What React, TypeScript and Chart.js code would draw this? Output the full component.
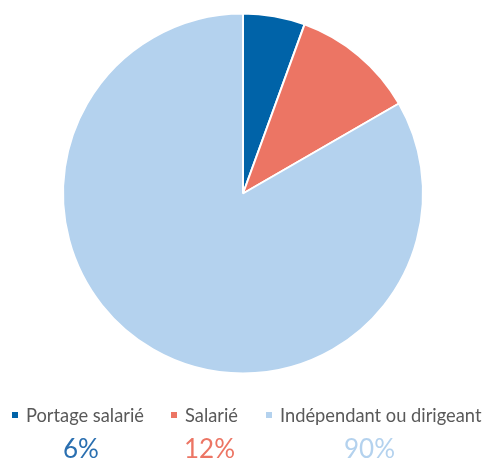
import React, { useEffect, useRef } from "react";
import { Chart, registerables } from "chart.js";

Chart.register(...registerables);

const categories = ["Portage salarié", "Salarié", "Indépendant ou dirigeant"];
const values = [6, 12, 90];
const percentLabels = ["6%", "12%", "90%"];
const colors = ["#0063A8", "#EC7564", "#B4D2EE"];
const percentColors = ["#2A6FB0", "#EC7564", "#B4D2EE"];

const legendX = [12, 171, 266];
const percentX = [63, 184, 344];

export default function App() {
  const ref = useRef<HTMLCanvasElement | null>(null);
  useEffect(() => {
    if (!ref.current) return;
    const chart = new Chart(ref.current, {
      type: "pie",
      data: {
        labels: categories,
        datasets: [
          {
            data: values,
            backgroundColor: colors,
            borderColor: "#ffffff",
            borderWidth: 2,
          },
        ],
      },
      options: {
        animation: false,
        responsive: false,
        layout: { padding: { left: 62, right: 58, top: 12, bottom: 84 } },
        plugins: { legend: { display: false }, tooltip: { enabled: false } },
      },
    });
    return () => chart.destroy();
  }, []);
  const font = "Lato, 'Open Sans', sans-serif";
  return (
    <div style={{ position: "absolute", left: 0, top: 0, width: 482, height: 459, background: "#fff" }}>
      <canvas ref={ref} width={482} height={459} style={{ position: "absolute", left: 0, top: 0 }} />
      {categories.map((c, i) => (
        <div key={c} style={{ position: "absolute", left: legendX[i], top: 404, display: "flex", alignItems: "center", fontFamily: font, fontSize: 18.3, color: "#595959", whiteSpace: "nowrap", lineHeight: "22px" }}>
          <span style={{ display: "inline-block", width: 6, height: 6, background: colors[i], marginRight: 8 }} />
          {c}
        </div>
      ))}
      {percentLabels.map((p, i) => (
        <div key={p} style={{ position: "absolute", left: percentX[i], top: 433, fontFamily: font, fontSize: 26, color: percentColors[i], whiteSpace: "nowrap", lineHeight: "30px" }}>
          {p}
        </div>
      ))}
    </div>
  );
}
